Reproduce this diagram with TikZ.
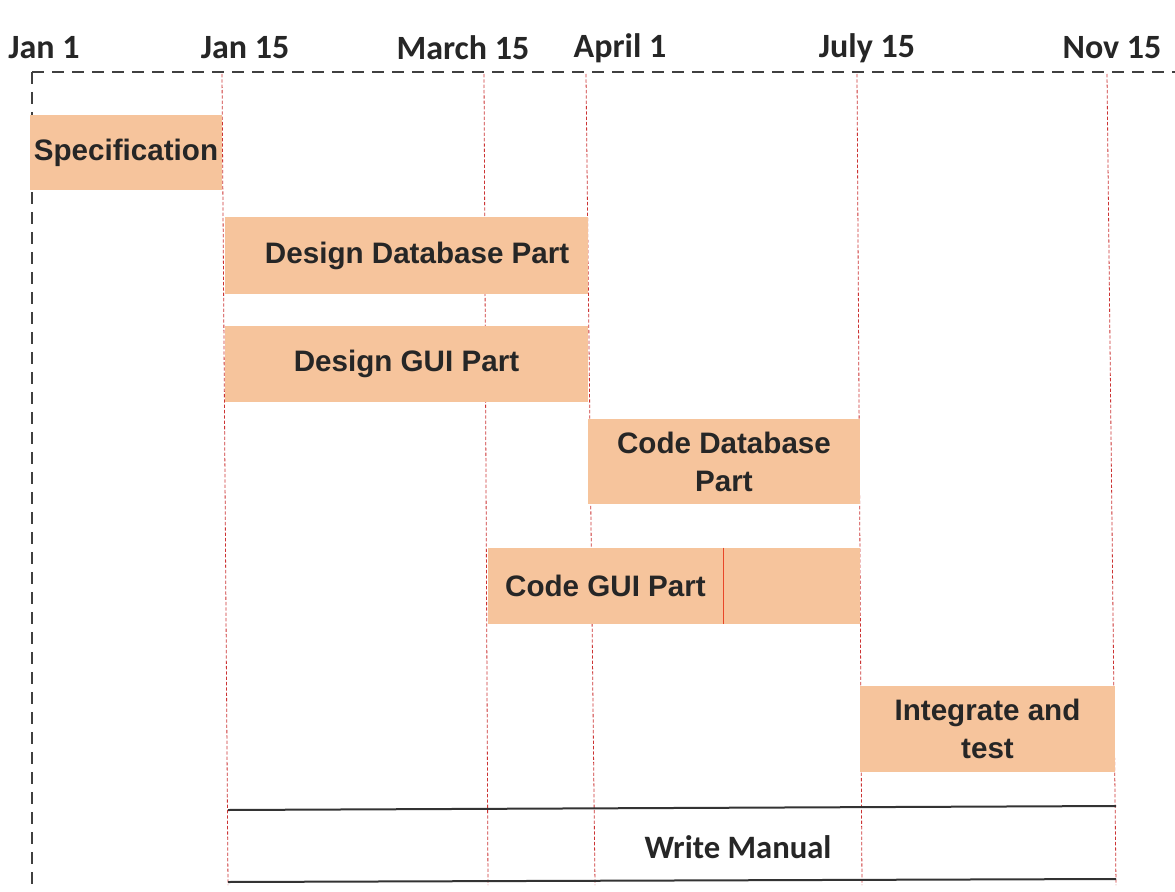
\documentclass[tikz,border=0pt]{standalone}
\usepackage{fontspec}
\setmainfont{Liberation Sans}
\newfontfamily\boxfont{Liberation Sans}
\newfontfamily\datefont{Carlito}
\begin{document}
\begin{tikzpicture}[x=0.75pt,y=-0.75pt,
  task/.style={fill=peach, draw=none, inner sep=0pt, font=\boxfont\bfseries\fontsize{22.2}{28.5}\selectfont, text=black!85, align=center},
  datelbl/.style={font=\datefont\bfseries\fontsize{25.5}{30}\selectfont, text=black!85, inner sep=0pt},
  axis/.style={line width=1.6pt, black!75, dash pattern=on 9pt off 6pt},
  mark line/.style={line width=0.6pt, red!75!black!80, dash pattern=on 2.5pt off 1.5pt},
  manual/.style={line width=1.5pt, black!80}]
\definecolor{peach}{RGB}{246,196,156}
\definecolor{splitred}{RGB}{232,70,40}
\useasboundingbox (0,0) rectangle (1175,892);
\fill[white] (0,0) rectangle (1175,892);
% date labels
\node[datelbl] (d1) at (44,48) {Jan 1};
\node[datelbl] (d2) at (245,48) {Jan 15};
\node[datelbl] (d3) at (463,48) {March 15};
\node[datelbl] (d4) at (620,48) {April 1};
\node[datelbl] (d5) at (867,48) {July 15};
\node[datelbl] (d6) at (1112,48) {Nov 15};
% axes
\coordinate (tl) at (32,72);
\coordinate (tr) at (1175,72);
\coordinate (bl) at (32,892);
\draw[axis] (tl) -- (tr);
\draw[axis] (tl) -- (bl);
% milestone lines
\draw[mark line] (222,74) -- (228,885);
\draw[mark line] (484,74) -- (488,885);
\draw[mark line] (586,74) -- (595,885);
\draw[mark line] (857,74) -- (862,885);
\draw[mark line] (1107,74) -- (1116,885);
% tasks
\node[task, minimum width=192*0.75pt, minimum height=75*0.75pt] (spec) at (126,152.5) {Specification};
\node[task, minimum width=363*0.75pt, minimum height=77*0.75pt] (ddb) at (406.5,255.5) {\hspace*{16pt}Design Database Part};
\node[task, minimum width=363*0.75pt, minimum height=76*0.75pt] (dgui) at (406.5,364) {Design GUI Part};
\node[task, minimum width=272*0.75pt, minimum height=85*0.75pt] (cdb) at (724,461.5) {Code Database\\Part};
\node[task, minimum width=235*0.75pt, minimum height=76*0.75pt] (cgui) at (605.5,586) {Code GUI Part};
\node[task, minimum width=137*0.75pt, minimum height=76*0.75pt] (cgui2) at (791.5,586) {};
\draw[line width=1.1pt, splitred] (cgui.north east) -- (cgui.south east);
\node[task, minimum width=255*0.75pt, minimum height=86*0.75pt] (integ) at (987.5,729) {Integrate and\\test};
% write manual
\coordinate (m1) at (228,810);
\coordinate (m2) at (1116,806);
\coordinate (m3) at (228,882);
\coordinate (m4) at (1116,879);
\draw[manual] (m1) -- (m2);
\draw[manual] (m3) -- (m4);
\node[datelbl, font=\datefont\bfseries\fontsize{24.5}{30}\selectfont] (wm) at (738,847) {Write Manual};
\end{tikzpicture}
\end{document}
